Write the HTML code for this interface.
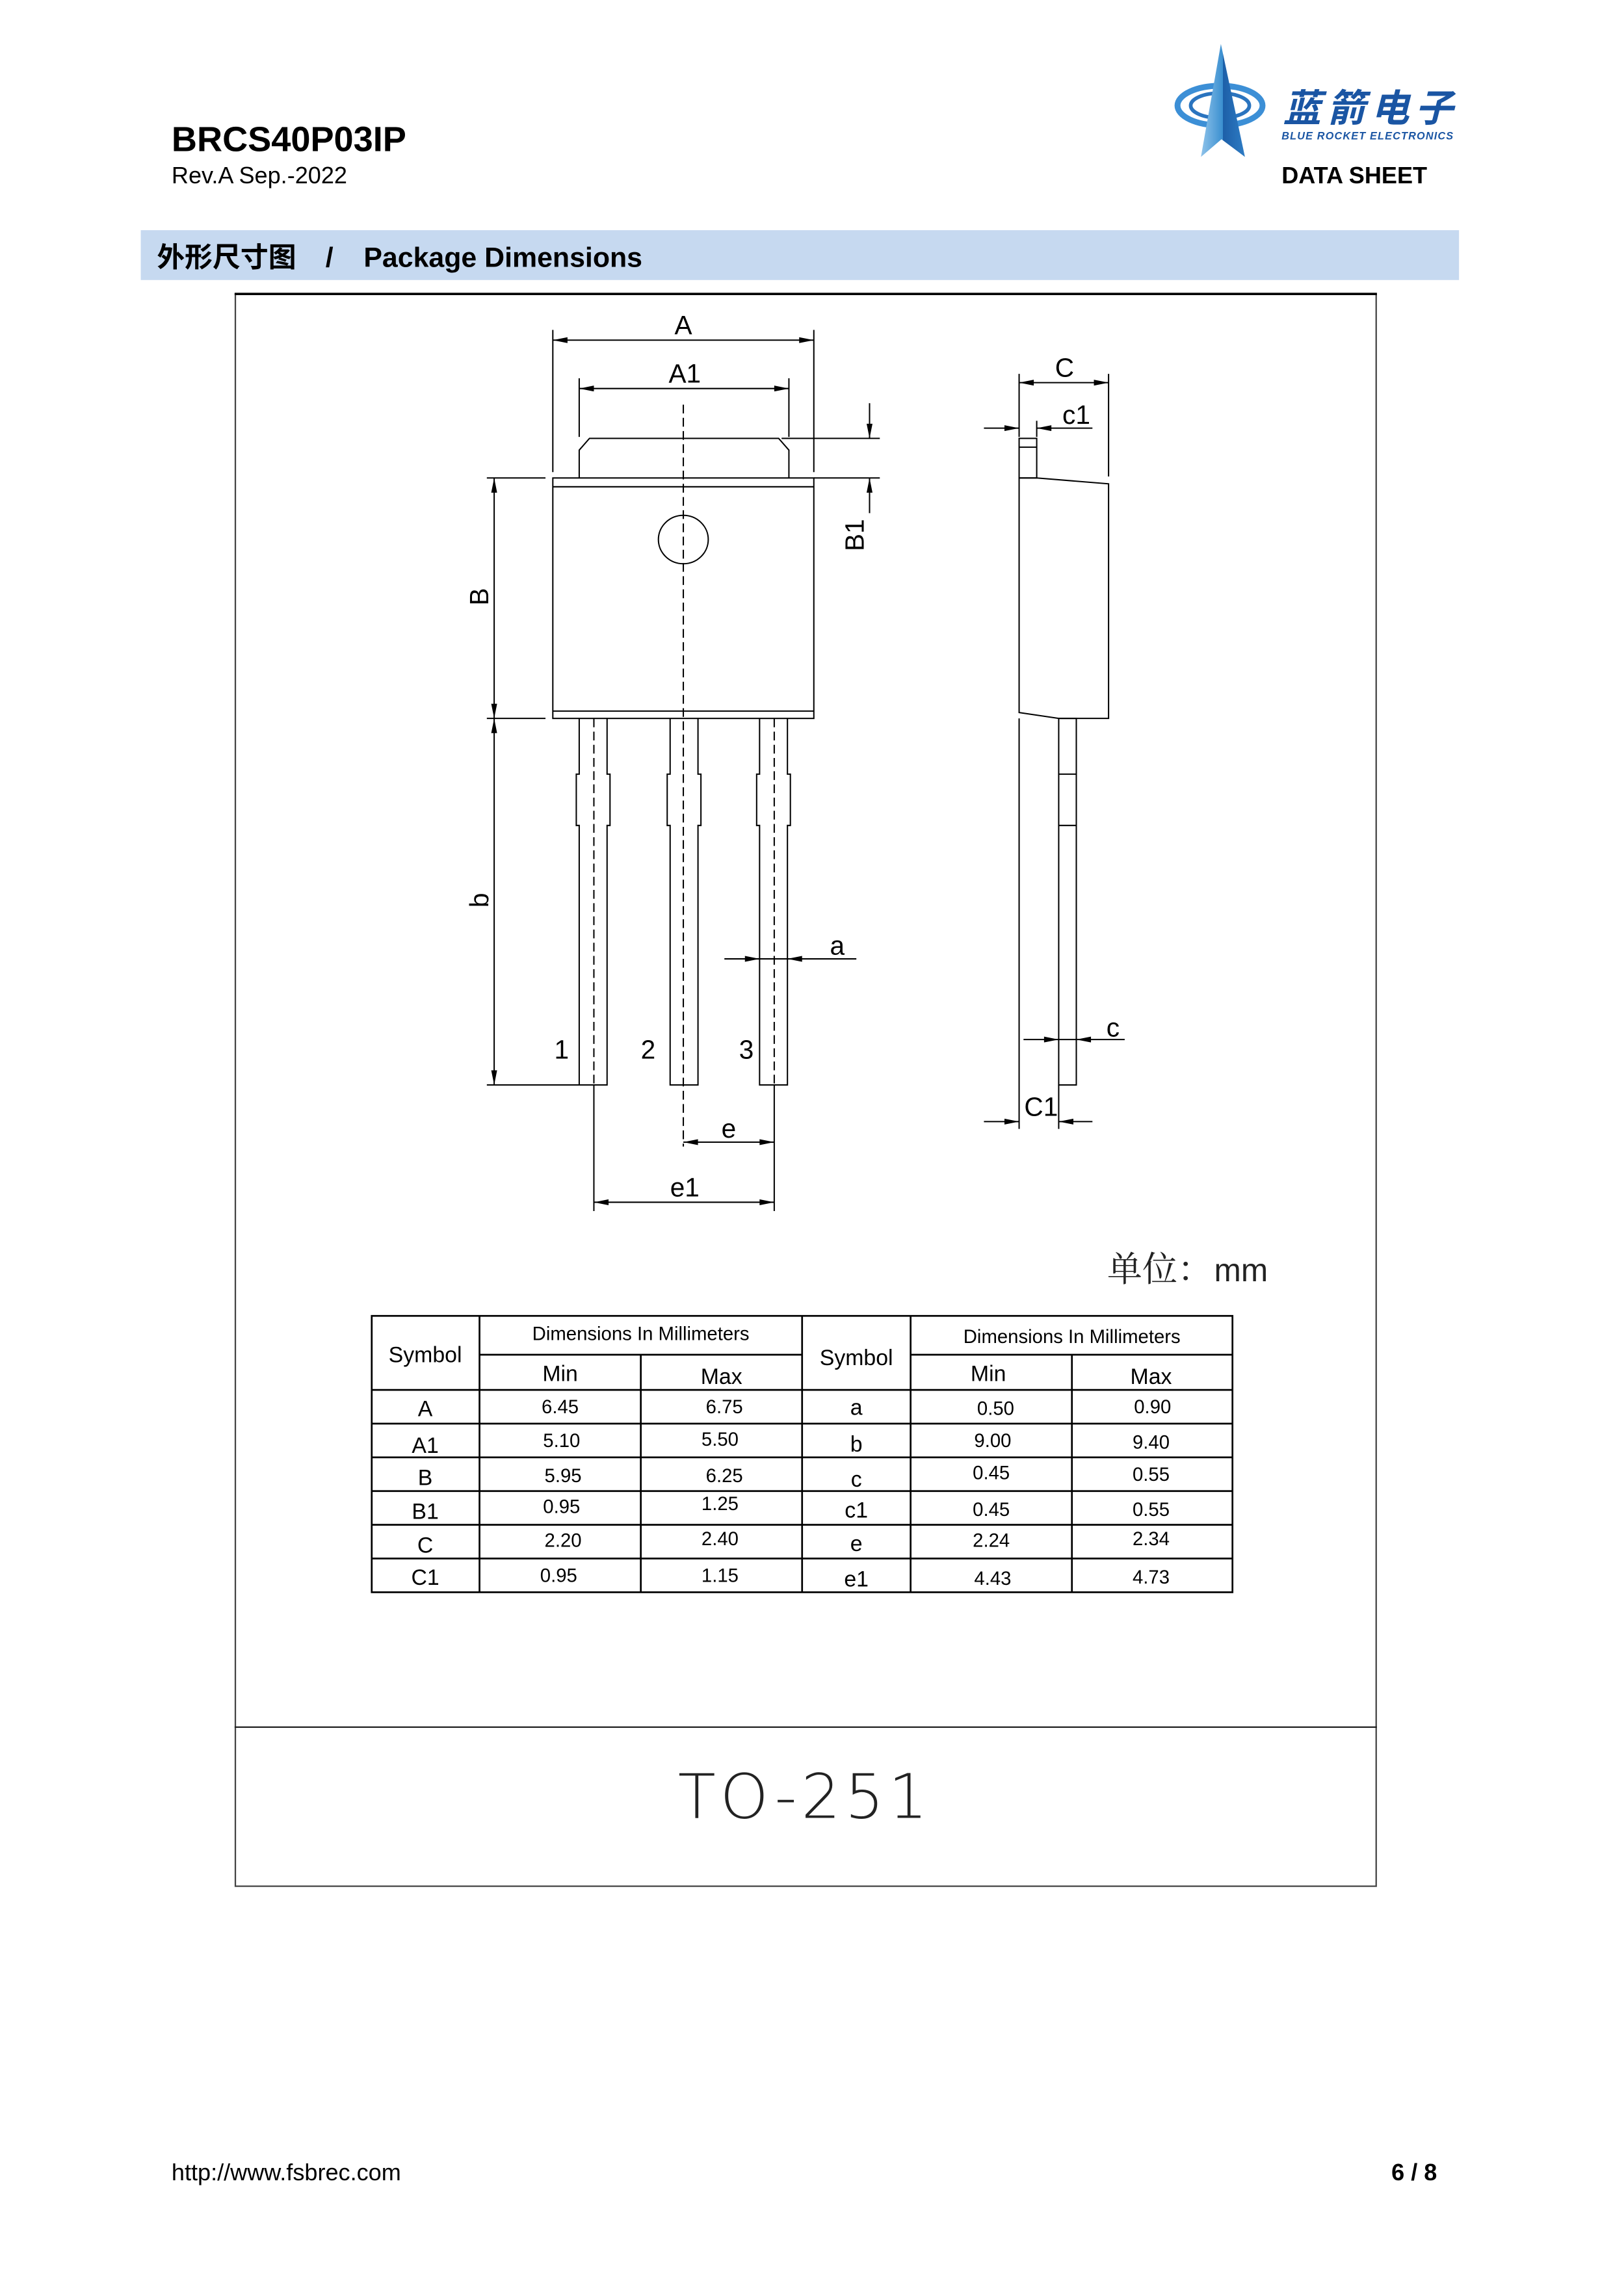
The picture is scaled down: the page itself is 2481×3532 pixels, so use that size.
<!DOCTYPE html>
<html><head><meta charset="utf-8"><style>
html,body{margin:0;padding:0;background:#fff}
svg{display:block}
</style></head><body>
<svg width="2481" height="3532" viewBox="0 0 1100 1566" xmlns="http://www.w3.org/2000/svg">
<defs>
<marker id="ar" viewBox="0 0 10 4" refX="10" refY="2" markerWidth="12" markerHeight="4" markerUnits="userSpaceOnUse" orient="auto-start-reverse"><path d="M0,0 L10,2 L0,4 z" fill="#000"/></marker>
<linearGradient id="lg" x1="0" x2="1"><stop offset="0" stop-color="#8fc3ea"/><stop offset="0.5" stop-color="#3a8fd0"/><stop offset="0.5" stop-color="#1d5fa8"/><stop offset="1" stop-color="#2e7cc4"/></linearGradient>
</defs>
<rect width="1100" height="1566" fill="#fff"/>
<text x="117" y="103" font-family="Liberation Sans, sans-serif" font-weight="bold" font-size="24">BRCS40P03IP</text>
<text x="117" y="125" font-family="Liberation Sans, sans-serif" font-size="16">Rev.A Sep.-2022</text>
<text x="874" y="125" font-family="Liberation Sans, sans-serif" font-weight="bold" font-size="16">DATA SHEET</text>
<ellipse cx="832" cy="72" rx="29" ry="13.5" fill="none" stroke="#3c8fd6" stroke-width="4"/>
<ellipse cx="832" cy="72" rx="20" ry="8.5" fill="none" stroke="#2a74bf" stroke-width="2.5"/>
<path d="M832.6,30 L849,107 L833,95 L819,107 Z" fill="url(#lg)"/>
<text x="875" y="83" font-family="Noto Sans CJK SC, sans-serif" font-weight="bold" font-style="italic" font-size="26" fill="#1a55a3" textLength="116">蓝箭电子</text>
<text x="874" y="95" font-family="Liberation Sans, sans-serif" font-weight="bold" font-style="italic" font-size="7.2" fill="#1a55a3" textLength="117">BLUE ROCKET ELECTRONICS</text>
<rect x="96" y="157" width="899" height="34" fill="#c6d9f0"/>
<text x="107" y="182" font-family="Liberation Sans, Noto Sans CJK SC, sans-serif" font-weight="bold" font-size="19">外形尺寸图</text>
<text x="222" y="182" font-family="Liberation Sans, sans-serif" font-weight="bold" font-size="19">/</text>
<text x="248" y="182" font-family="Liberation Sans, sans-serif" font-weight="bold" font-size="19">Package Dimensions</text>
<rect x="160.5" y="200.5" width="778" height="1086" fill="none" stroke="#444" stroke-width="1"/>
<line x1="160" y1="200.5" x2="939" y2="200.5" stroke="#000" stroke-width="1.6"/>
<line x1="160" y1="1178" x2="939" y2="1178" stroke="#222" stroke-width="1"/>
<text x="549" y="1240" text-anchor="middle" font-family="DejaVu Sans, sans-serif" font-weight="200" font-size="42" fill="#222" letter-spacing="3">TO-251</text>

<g fill="none" stroke="#000" stroke-width="0.9" font-family="Liberation Sans, sans-serif">
<polyline points="395,326 395,307 402,299 531,299 538,307 538,326"/>
<rect x="377" y="326" width="178" height="164"/>
<line x1="377" y1="332" x2="555" y2="332"/>
<line x1="377" y1="485" x2="555" y2="485"/>
<ellipse cx="466" cy="368" rx="17" ry="16.5"/>
<line x1="466" y1="276" x2="466" y2="782" stroke-dasharray="6,3"/>
<g>
<path d="M395,490 V528 H393 V563 H395 V740 H414 V563 H416 V528 H414 V490"/>
<path d="M457,490 V528 H455 V563 H457 V740 H476 V563 H478 V528 H476 V490"/>
<path d="M518,490 V528 H516 V563 H518 V740 H537 V563 H539 V528 H537 V490"/>
<line x1="405" y1="490" x2="405" y2="740" stroke-dasharray="6,3"/>
<line x1="528" y1="490" x2="528" y2="740" stroke-dasharray="6,3"/>
</g>
<line x1="377" y1="225" x2="377" y2="322"/>
<line x1="555" y1="225" x2="555" y2="322"/>
<line x1="377" y1="232" x2="555" y2="232" marker-start="url(#ar)" marker-end="url(#ar)"/>
<line x1="395" y1="258" x2="395" y2="298"/>
<line x1="538" y1="258" x2="538" y2="298"/>
<line x1="395" y1="265" x2="538" y2="265" marker-start="url(#ar)" marker-end="url(#ar)"/>
<line x1="533" y1="299" x2="600" y2="299"/>
<line x1="555" y1="326" x2="600" y2="326"/>
<line x1="593" y1="275" x2="593" y2="299" marker-end="url(#ar)"/>
<line x1="593" y1="350" x2="593" y2="326" marker-end="url(#ar)"/>
<line x1="332" y1="326" x2="372" y2="326"/>
<line x1="332" y1="490" x2="372" y2="490"/>
<line x1="332" y1="740" x2="395" y2="740"/>
<line x1="337" y1="326" x2="337" y2="490" marker-start="url(#ar)" marker-end="url(#ar)"/>
<line x1="337" y1="490" x2="337" y2="740" marker-start="url(#ar)" marker-end="url(#ar)"/>
<line x1="494" y1="654" x2="518" y2="654" marker-end="url(#ar)"/>
<line x1="584" y1="654" x2="537" y2="654" marker-end="url(#ar)"/>
<line x1="518" y1="654" x2="537" y2="654"/>
<line x1="405" y1="740" x2="405" y2="826"/>
<line x1="528" y1="740" x2="528" y2="826"/>
<line x1="466" y1="779" x2="528" y2="779" marker-start="url(#ar)" marker-end="url(#ar)"/>
<line x1="405" y1="820" x2="528" y2="820" marker-start="url(#ar)" marker-end="url(#ar)"/>
<rect x="695" y="299" width="12" height="27"/>
<line x1="695" y1="305" x2="707" y2="305"/>
<polygon points="695,326 707,326 756,330 756,490 722,490 695,486"/>
<rect x="722" y="490" width="12" height="250"/>
<line x1="722" y1="528" x2="734" y2="528"/>
<line x1="722" y1="563" x2="734" y2="563"/>
<line x1="695" y1="490" x2="695" y2="770"/>
<line x1="722" y1="740" x2="722" y2="770"/>
<line x1="695" y1="255" x2="695" y2="298"/>
<line x1="756" y1="255" x2="756" y2="325"/>
<line x1="695" y1="261" x2="756" y2="261" marker-start="url(#ar)" marker-end="url(#ar)"/>
<line x1="707" y1="287" x2="707" y2="298"/>
<line x1="671" y1="292" x2="695" y2="292" marker-end="url(#ar)"/>
<line x1="745" y1="292" x2="707" y2="292" marker-end="url(#ar)"/>
<line x1="698" y1="709" x2="722" y2="709" marker-end="url(#ar)"/>
<line x1="767" y1="709" x2="734" y2="709" marker-end="url(#ar)"/>
<line x1="722" y1="709" x2="734" y2="709"/>
<line x1="671" y1="765" x2="695" y2="765" marker-end="url(#ar)"/>
<line x1="745" y1="765" x2="722" y2="765" marker-end="url(#ar)"/>
</g>
<g font-family="Liberation Sans, sans-serif" font-size="18" fill="#000" text-anchor="middle">
<text x="466" y="228">A</text>
<text x="467" y="261">A1</text>
<text x="726" y="257">C</text>
<text x="734" y="289">c1</text>
<text x="759" y="707">c</text>
<text x="710" y="761">C1</text>
<text x="571" y="651">a</text>
<text x="497" y="776">e</text>
<text x="467" y="816">e1</text>
<text x="383" y="722">1</text>
<text x="442" y="722">2</text>
<text x="509" y="722">3</text>
<text transform="translate(333,407) rotate(-90)">B</text>
<text transform="translate(333,614) rotate(-90)">b</text>
<text transform="translate(589,365) rotate(-90)">B1</text>
</g>
<text x="755" y="874" font-family="Noto Serif CJK SC, serif" font-size="24" fill="#222">单位：</text>
<text x="828" y="874" font-family="Liberation Sans, sans-serif" font-size="22" fill="#222">mm</text>

<g stroke="#000" stroke-width="1.2" fill="none">
<rect x="253.5" y="897.5" width="587" height="188.5"/>
<line x1="327" y1="897" x2="327" y2="1086"/>
<line x1="437" y1="924" x2="437" y2="1086"/>
<line x1="547" y1="897" x2="547" y2="1086"/>
<line x1="621" y1="897" x2="621" y2="1086"/>
<line x1="731" y1="924" x2="731" y2="1086"/>
<line x1="327" y1="924" x2="547" y2="924"/>
<line x1="621" y1="924" x2="840" y2="924"/>
<line x1="253" y1="948" x2="840" y2="948"/>
<line x1="253" y1="971" x2="840" y2="971"/>
<line x1="253" y1="994" x2="840" y2="994"/>
<line x1="253" y1="1017" x2="840" y2="1017"/>
<line x1="253" y1="1040" x2="840" y2="1040"/>
<line x1="253" y1="1063" x2="840" y2="1063"/>
</g>
<g font-family="Liberation Sans, sans-serif" font-size="15" fill="#000" text-anchor="middle">
<text x="290" y="929">Symbol</text>
<text x="584" y="931">Symbol</text>
<text x="437" y="914" font-size="13">Dimensions In Millimeters</text>
<text x="731" y="916" font-size="13">Dimensions In Millimeters</text>
<text x="382" y="942">Min</text><text x="492" y="944">Max</text>
<text x="674" y="942">Min</text><text x="785" y="944">Max</text>
<text x="290" y="966">A</text><text x="290" y="991">A1</text><text x="290" y="1013">B</text><text x="290" y="1036">B1</text><text x="290" y="1059">C</text><text x="290" y="1081">C1</text>
<text x="584" y="965">a</text><text x="584" y="990">b</text><text x="584" y="1014">c</text><text x="584" y="1035">c1</text><text x="584" y="1058">e</text><text x="584" y="1082">e1</text>
</g>
<g font-family="Liberation Sans, sans-serif" font-size="13" fill="#000" text-anchor="middle">
<text x="382" y="964">6.45</text><text x="494" y="964">6.75</text>
<text x="383" y="987">5.10</text><text x="491" y="986">5.50</text>
<text x="384" y="1011">5.95</text><text x="494" y="1011">6.25</text>
<text x="383" y="1032">0.95</text><text x="491" y="1030">1.25</text>
<text x="384" y="1055">2.20</text><text x="491" y="1054">2.40</text>
<text x="381" y="1079">0.95</text><text x="491" y="1079">1.15</text>
<text x="679" y="965">0.50</text><text x="786" y="964">0.90</text>
<text x="677" y="987">9.00</text><text x="785" y="988">9.40</text>
<text x="676" y="1009">0.45</text><text x="785" y="1010">0.55</text>
<text x="676" y="1034">0.45</text><text x="785" y="1034">0.55</text>
<text x="676" y="1055">2.24</text><text x="785" y="1054">2.34</text>
<text x="677" y="1081">4.43</text><text x="785" y="1080">4.73</text>
</g>
<text x="117" y="1487" font-family="Liberation Sans, sans-serif" font-size="16">http://www.fsbrec.com</text>
<text x="980" y="1487" text-anchor="end" font-family="Liberation Sans, sans-serif" font-weight="bold" font-size="16">6 / 8</text>
</svg>
</body></html>
